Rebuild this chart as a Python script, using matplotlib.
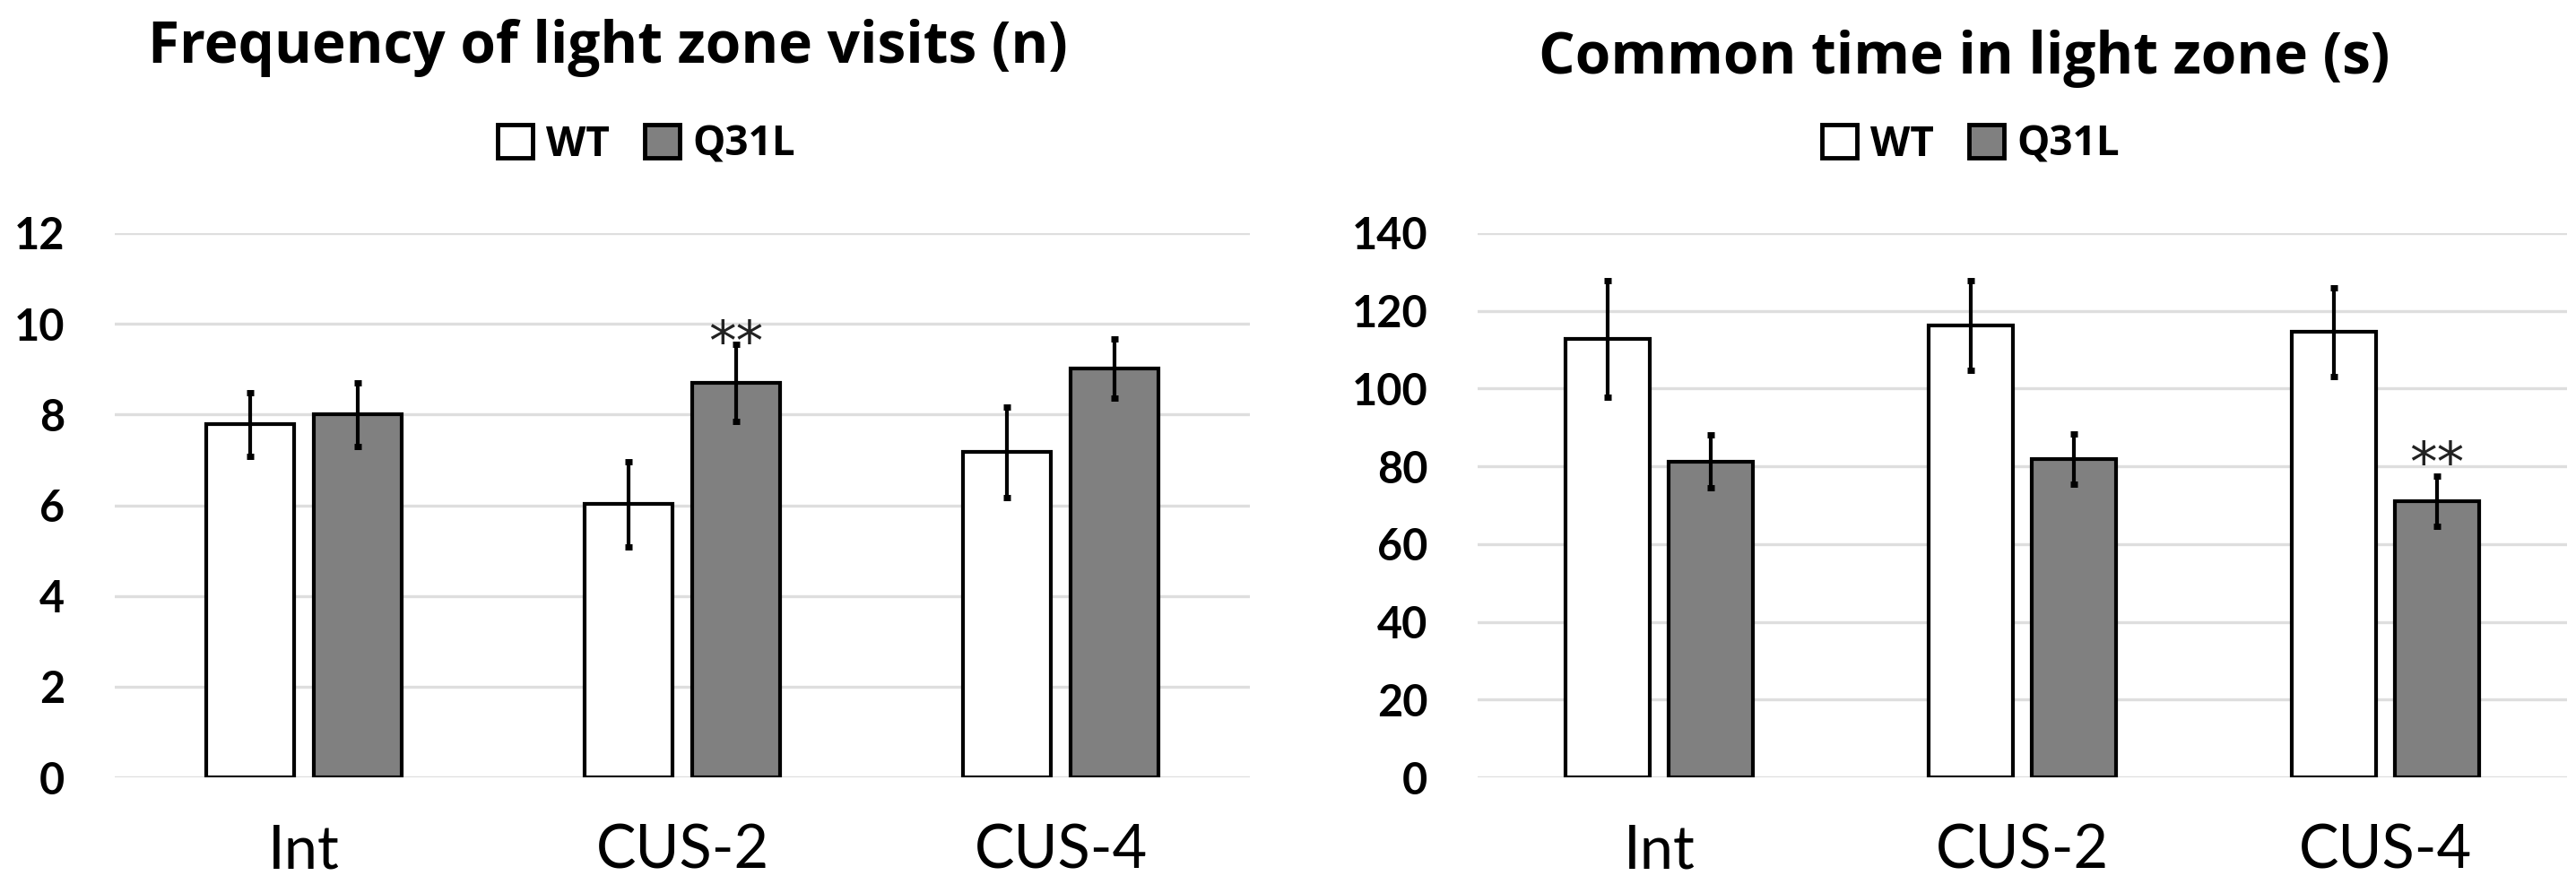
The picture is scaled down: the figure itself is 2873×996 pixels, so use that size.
import numpy as np
import matplotlib
matplotlib.use("Agg")
from matplotlib import pyplot as plt
from matplotlib.patches import Patch

plt.rcParams['font.family'] = ['Lato', 'DejaVu Sans']

categories = ['Int', 'CUS-2', 'CUS-4']
series = ['WT', 'Q31L']

# frequency of light zone visits (n)
freq_wt = [7.78, 6.02, 7.17]
freq_wt_err = [0.70, 0.93, 1.00]
freq_q31l = [8.00, 8.70, 9.02]
freq_q31l_err = [0.70, 0.85, 0.65]

# common time in light zone (s)
time_wt = [112.7, 116.2, 114.6]
time_wt_err = [15.0, 11.5, 11.4]
time_q31l = [81.2, 81.9, 71.0]
time_q31l_err = [6.8, 6.5, 6.5]

# significance marks: (category index, series index, y)
freq_sig = [(1, 1, 9.92)]
time_sig = [(2, 1, 84.6)]

W, H = 2873, 996
fig = plt.figure(figsize=(W / 100, H / 100), dpi=100)

bar_w = 0.234
off = 0.142
colors = ['white', '#808080']


def draw(ax, vals, errs, ymax, step, sig):
    x = np.arange(len(categories))
    for i in range(2):
        ax.bar(x + (i * 2 - 1) * off, vals[i], bar_w, color=colors[i],
               edgecolor='black', linewidth=3, zorder=3)
        ax.errorbar(x + (i * 2 - 1) * off, vals[i], yerr=errs[i], fmt='none',
                    ecolor='black', elinewidth=3, capsize=3, capthick=5, zorder=4)
    for ci, si, y in sig:
        ax.annotate('**', xy=(ci + (si * 2 - 1) * off, y), xytext=(0, -0.59 * 44),
                    textcoords='offset points', ha='center', va='baseline',
                    fontsize=44, family='DejaVu Sans', color='#222222', zorder=5)
    ax.set_xlim(-0.5, len(categories) - 0.5)
    ax.set_ylim(0, ymax)
    ax.set_yticks(np.arange(0, ymax + step / 2, step))
    ax.set_xticks(x)
    ax.set_xticklabels(categories, fontsize=48)
    ax.tick_params(axis='y', labelsize=35, length=0, pad=40)
    for t in ax.get_yticklabels():
        t.set_fontweight('bold')
    ax.tick_params(axis='x', length=0, pad=37)
    ax.yaxis.grid(True, color='#dedede', linewidth=2.4, zorder=0)
    ax.set_axisbelow(True)
    for s in ax.spines.values():
        s.set_visible(False)


ax1 = fig.add_axes([128 / W, 1 - 867 / H, (1394 - 128) / W, (867 - 260) / H])
draw(ax1, [freq_wt, freq_q31l], [freq_wt_err, freq_q31l_err], 12, 2, freq_sig)

ax2 = fig.add_axes([1648 / W, 1 - 867 / H, (2863 - 1648) / W, (867 - 260) / H])
draw(ax2, [time_wt, time_q31l], [time_wt_err, time_q31l_err], 140, 20, time_sig)

fig.text(678 / W, 1 - 70 / H, 'Frequency of light zone visits (n)', ha='center',
         va='baseline', fontsize=46, fontweight='bold', family='Open Sans')
fig.text(2191 / W, 1 - 82 / H, 'Common time in light zone (s)', ha='center',
         va='baseline', fontsize=46, fontweight='bold', family='Open Sans')

handles = [Patch(facecolor=colors[i], edgecolor='black', linewidth=3.5, label=series[i])
           for i in range(2)]
for cx in [721 / W, 2198 / W]:
    fig.legend(handles=handles, loc='center', bbox_to_anchor=(cx, 1 - 161 / H), ncol=2,
               frameon=False, prop={'size': 33, 'weight': 'bold', 'family': 'Open Sans'},
               handlelength=0.85, handleheight=0.85, handletextpad=0.32,
               columnspacing=0.85)

fig.savefig('out.png', dpi=100, facecolor='white')
